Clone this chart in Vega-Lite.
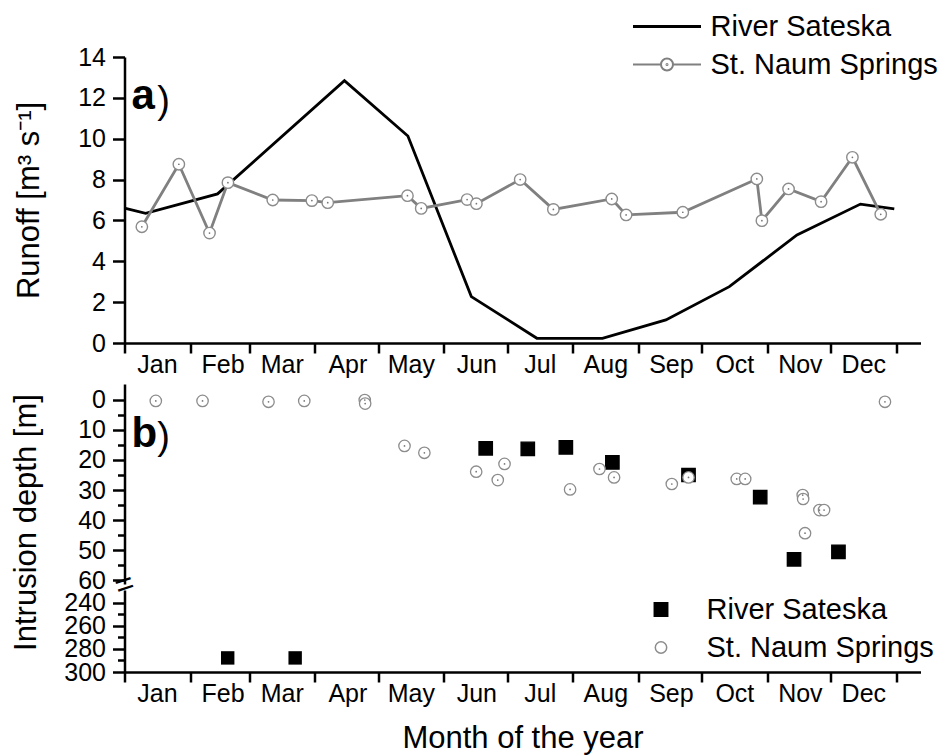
{
  "$schema": "https://vega.github.io/schema/vega-lite/v6.json",
  "background": "white",
  "padding": {"left": 9.5, "top": 12, "right": 5, "bottom": 5},
  "autosize": "pad",
  "config": {
    "font": "Liberation Sans",
    "view": {"stroke": null},
    "axis": {
      "grid": false,
      "domainColor": "black",
      "domainWidth": 2.5,
      "tickColor": "black",
      "tickWidth": 2.5,
      "labelColor": "black",
      "titleColor": "black",
      "labelFont": "Liberation Sans",
      "titleFont": "Liberation Sans",
      "labelFontSize": 25,
      "titleFontSize": 31,
      "titleFontWeight": "normal",
      "labelOverlap": false,
      "labelFlush": false,
      "labelBound": false
    },
    "legend": {"labelFont": "Liberation Sans", "labelColor": "black", "labelLimit": 400}
  },
  "datasets": {
    "runoff": [
      {"series": "River Sateska", "day": 0, "value": 6.6},
      {"series": "River Sateska", "day": 10, "value": 6.35},
      {"series": "River Sateska", "day": 44, "value": 7.3},
      {"series": "River Sateska", "day": 104, "value": 12.84},
      {"series": "River Sateska", "day": 134, "value": 10.13},
      {"series": "River Sateska", "day": 164, "value": 2.27},
      {"series": "River Sateska", "day": 195, "value": 0.23},
      {"series": "River Sateska", "day": 226, "value": 0.23},
      {"series": "River Sateska", "day": 256, "value": 1.13},
      {"series": "River Sateska", "day": 286, "value": 2.76},
      {"series": "River Sateska", "day": 318, "value": 5.29},
      {"series": "River Sateska", "day": 348, "value": 6.8},
      {"series": "River Sateska", "day": 364, "value": 6.56},
      {"series": "St. Naum Springs", "day": 8.2, "value": 5.69},
      {"series": "St. Naum Springs", "day": 25.7, "value": 8.75},
      {"series": "St. Naum Springs", "day": 40.2, "value": 5.38},
      {"series": "St. Naum Springs", "day": 48.9, "value": 7.85},
      {"series": "St. Naum Springs", "day": 70.1, "value": 7.0},
      {"series": "St. Naum Springs", "day": 88.6, "value": 6.97},
      {"series": "St. Naum Springs", "day": 96.1, "value": 6.87},
      {"series": "St. Naum Springs", "day": 133.8, "value": 7.21},
      {"series": "St. Naum Springs", "day": 140.3, "value": 6.59},
      {"series": "St. Naum Springs", "day": 162, "value": 7.02},
      {"series": "St. Naum Springs", "day": 166.4, "value": 6.82},
      {"series": "St. Naum Springs", "day": 187.1, "value": 8.0},
      {"series": "St. Naum Springs", "day": 202.8, "value": 6.54},
      {"series": "St. Naum Springs", "day": 230.4, "value": 7.05},
      {"series": "St. Naum Springs", "day": 237.2, "value": 6.27},
      {"series": "St. Naum Springs", "day": 264, "value": 6.4},
      {"series": "St. Naum Springs", "day": 299, "value": 8.03},
      {"series": "St. Naum Springs", "day": 301.4, "value": 5.99},
      {"series": "St. Naum Springs", "day": 314, "value": 7.54},
      {"series": "St. Naum Springs", "day": 329.4, "value": 6.92},
      {"series": "St. Naum Springs", "day": 344.2, "value": 9.09},
      {"series": "St. Naum Springs", "day": 357.6, "value": 6.3}
    ],
    "intrusion": [
      {"series": "River Sateska", "day": 48.8, "depth": 287.8},
      {"series": "River Sateska", "day": 80.7, "depth": 287.8},
      {"series": "River Sateska", "day": 170.8, "depth": 16.1},
      {"series": "River Sateska", "day": 190.7, "depth": 16.3},
      {"series": "River Sateska", "day": 208.7, "depth": 15.8},
      {"series": "River Sateska", "day": 230.7, "depth": 20.8},
      {"series": "River Sateska", "day": 266.7, "depth": 25},
      {"series": "River Sateska", "day": 300.6, "depth": 32.4},
      {"series": "River Sateska", "day": 316.6, "depth": 53.1},
      {"series": "River Sateska", "day": 337.6, "depth": 50.6},
      {"series": "St. Naum Springs", "day": 14.8, "depth": 0.3},
      {"series": "St. Naum Springs", "day": 36.9, "depth": 0.3},
      {"series": "St. Naum Springs", "day": 68.1, "depth": 0.6},
      {"series": "St. Naum Springs", "day": 85, "depth": 0.3},
      {"series": "St. Naum Springs", "day": 113.6, "depth": 0},
      {"series": "St. Naum Springs", "day": 113.8, "depth": 1.2},
      {"series": "St. Naum Springs", "day": 132.4, "depth": 15.3},
      {"series": "St. Naum Springs", "day": 141.8, "depth": 17.6},
      {"series": "St. Naum Springs", "day": 166.3, "depth": 23.9},
      {"series": "St. Naum Springs", "day": 176.5, "depth": 26.7},
      {"series": "St. Naum Springs", "day": 179.7, "depth": 21.3},
      {"series": "St. Naum Springs", "day": 210.7, "depth": 29.8},
      {"series": "St. Naum Springs", "day": 224.6, "depth": 23},
      {"series": "St. Naum Springs", "day": 231.5, "depth": 25.8},
      {"series": "St. Naum Springs", "day": 258.8, "depth": 28},
      {"series": "St. Naum Springs", "day": 266.7, "depth": 25.8},
      {"series": "St. Naum Springs", "day": 289.5, "depth": 26.3},
      {"series": "St. Naum Springs", "day": 293.5, "depth": 26.3},
      {"series": "St. Naum Springs", "day": 320.7, "depth": 31.7},
      {"series": "St. Naum Springs", "day": 320.9, "depth": 33},
      {"series": "St. Naum Springs", "day": 321.8, "depth": 44.4},
      {"series": "St. Naum Springs", "day": 328.6, "depth": 36.7},
      {"series": "St. Naum Springs", "day": 330.8, "depth": 36.7},
      {"series": "St. Naum Springs", "day": 359.6, "depth": 0.6}
    ]
  },
  "spacing": 41,
  "bounds": "flush",
  "resolve": {"scale": {"color": "independent", "shape": "independent", "fill": "independent", "stroke": "independent", "size": "independent"}},
  "vconcat": [
    {
      "width": 796,
      "height": 286,
      "layer": [
        {
          "data": {"name": "runoff"},
          "mark": {"type": "line", "strokeWidth": 2.8},
          "encoding": {
            "x": {
              "field": "day", "type": "quantitative",
              "scale": {"domain": [0, 376.4], "nice": false, "zero": false},
              "axis": {
                "values": [0, 31, 59, 90, 120, 151, 181, 212, 243, 273, 304, 334, 365],
                "labelExpr": "datum.value >= 365 ? '' : timeFormat(datetime(2001, 0, 1 + datum.value), '%b')",
                "labelOffset": 32.5, "labelAlign": "center", "tickSize": 10, "labelPadding": -1, "title": null,
                "labelOverlap": false
              }
            },
            "y": {
              "field": "value", "type": "quantitative",
              "scale": {"domain": [0, 14], "nice": false},
              "axis": {
                "values": [0, 1, 2, 3, 4, 5, 6, 7, 8, 9, 10, 11, 12, 13, 14],
                "labelExpr": "indexof([0, 2, 4, 6, 8, 10, 12, 14], datum.value) >= 0 ? datum.label : ''",
                "tickSize": {"condition": {"test": "datum.value % 2 === 0", "value": 12}, "value": 7},
                "labelPadding": 7,
                "labelOverlap": false,
                "title": "Runoff [m³ s⁻¹]",
                "titleX": -79
              }
            },
            "color": {
              "field": "series", "type": "nominal",
              "scale": {"domain": ["River Sateska", "St. Naum Springs"], "range": ["black", "#808080"]},
              "legend": {
                "orient": "none", "legendX": 528, "legendY": -45, "title": null, "padding": 0,
                "labelFontSize": 29, "labelLimit": 400, "symbolSize": 400, "symbolStrokeWidth": 2.5, "labelOffset": 29, "rowPadding": 8,
                "encode": {
                  "symbols": {
                    "update": {
                      "shape": {"signal": "datum.value === 'River Sateska' ? 'M-3.4,0H3.4' : 'M-3.4,0H-0.6M0.6,0H3.4M-0.6,0A0.6,0.6 0 1 1 0.6,0A0.6,0.6 0 1 1 -0.6,0M-0.05,0A0.05,0.05 0 1 1 0.05,0A0.05,0.05 0 1 1 -0.05,0'"},
                      "fill": {"value": "white"},
                      "strokeWidth": {"signal": "datum.value === 'River Sateska' ? 3 : 2"}
                    }
                  }
                }
              }
            }
          }
        },
        {
          "data": {"name": "runoff"},
          "transform": [{"filter": "datum.series === 'St. Naum Springs'"}],
          "mark": {"type": "point", "shape": "circle", "filled": true, "fill": "white", "stroke": "#8c8c8c", "strokeWidth": 1.4, "size": 130, "opacity": 1},
          "encoding": {
            "x": {"field": "day", "type": "quantitative"},
            "y": {"field": "value", "type": "quantitative"}
          }
        },
        {
          "data": {"name": "runoff"},
          "transform": [{"filter": "datum.series === 'St. Naum Springs'"}],
          "mark": {"type": "point", "shape": "circle", "filled": true, "fill": "#777777", "size": 3, "opacity": 1},
          "encoding": {
            "x": {"field": "day", "type": "quantitative"},
            "y": {"field": "value", "type": "quantitative"}
          }
        },
        {
          "data": {"values": [{"label": "a", "day": 3.3, "value": 11.45}]},
          "mark": {"type": "text", "fontSize": 42, "fontWeight": "bold", "align": "left", "baseline": "alphabetic", "color": "black"},
          "encoding": {
            "x": {"field": "day", "type": "quantitative"},
            "y": {"field": "value", "type": "quantitative"},
            "text": {"field": "label"}
          }
        },
        {
          "data": {"values": [{"label": ")", "day": 15.5, "value": 11.25}]},
          "mark": {"type": "text", "fontSize": 38, "align": "left", "baseline": "alphabetic", "color": "black"},
          "encoding": {
            "x": {"field": "day", "type": "quantitative"},
            "y": {"field": "value", "type": "quantitative"},
            "text": {"field": "label"}
          }
        }
      ]
    },
    {
      "spacing": 6,
      "bounds": "flush",
      "vconcat": [
        {
          "width": 796,
          "height": 200,
          "resolve": {"axis": {"y": "independent"}},
          "layer": [
            {
              "data": {"name": "intrusion"},
              "transform": [{"filter": "datum.depth <= 60"}],
              "mark": {"type": "point", "filled": true, "strokeWidth": 1.3, "opacity": 1},
              "encoding": {
                "x": {
                  "field": "day", "type": "quantitative",
                  "scale": {"domain": [0, 376.4], "nice": false, "zero": false},
                  "axis": null
                },
                "y": {
                  "field": "depth", "type": "quantitative",
                  "scale": {"domain": [-5.33, 61.33], "nice": false, "zero": false, "reverse": true},
                  "axis": {
                    "orient": "left",
                    "values": [0, 10, 20, 30, 40, 50, 60],
                    "tickSize": 12,
                    "labelPadding": 7,
                    "labelOverlap": false,
                    "title": "Intrusion depth [m]",
                    "titleX": -82.5,
                    "titleY": 138
                  }
                },
                "shape": {
                  "field": "series", "type": "nominal",
                  "scale": {"domain": ["River Sateska", "St. Naum Springs"], "range": ["square", "circle"]},
                  "legend": {
                    "orient": "none", "legendX": 522, "legendY": 211, "title": null, "padding": 0,
                    "labelFontSize": 29, "labelLimit": 400, "labelOffset": 31, "rowPadding": 8
                  }
                },
                "fill": {
                  "field": "series", "type": "nominal",
                  "scale": {"domain": ["River Sateska", "St. Naum Springs"], "range": ["black", "white"]}
                },
                "stroke": {
                  "field": "series", "type": "nominal",
                  "scale": {"domain": ["River Sateska", "St. Naum Springs"], "range": ["black", "#8c8c8c"]}
                },
                "size": {
                  "field": "series", "type": "nominal",
                  "scale": {"domain": ["River Sateska", "St. Naum Springs"], "range": [180, 130]}
                }
              }
            },
            {
              "data": {"name": "intrusion"},
              "transform": [{"filter": "datum.series === 'St. Naum Springs' && datum.depth <= 60"}],
              "mark": {"type": "point", "shape": "circle", "filled": true, "fill": "#777777", "size": 3, "opacity": 1},
              "encoding": {
                "x": {"field": "day", "type": "quantitative"},
                "y": {
                  "field": "depth", "type": "quantitative",
                  "axis": {
                    "orient": "left",
                    "values": [5, 15, 25, 35, 45, 55],
                    "tickSize": 7,
                    "labels": false,
                    "domain": false,
                    "title": null
                  }
                }
              }
            },
            {
              "data": {"values": [{"label": "b", "day": 3.3, "depth": 15.8}]},
              "mark": {"type": "text", "fontSize": 42, "fontWeight": "bold", "align": "left", "baseline": "alphabetic", "color": "black"},
              "encoding": {
                "x": {"field": "day", "type": "quantitative"},
                "y": {"field": "depth", "type": "quantitative", "axis": null},
                "text": {"field": "label"}
              }
            },
            {
              "data": {"values": [{"label": ")", "day": 15.5, "depth": 16.5}]},
              "mark": {"type": "text", "fontSize": 38, "align": "left", "baseline": "alphabetic", "color": "black"},
              "encoding": {
                "x": {"field": "day", "type": "quantitative"},
                "y": {"field": "depth", "type": "quantitative", "axis": null},
                "text": {"field": "label"}
              }
            },
            {
              "data": {"values": [{"label": "=", "day": 0, "depth": 61.6}]},
              "mark": {"type": "text", "fontSize": 32, "align": "center", "baseline": "middle", "angle": -18, "color": "black"},
              "encoding": {
                "x": {"field": "day", "type": "quantitative"},
                "y": {"field": "depth", "type": "quantitative", "axis": null},
                "text": {"field": "label"}
              }
            }
          ]
        },
        {
          "width": 796,
          "height": 82,
          "data": {"name": "intrusion"},
          "transform": [{"filter": "datum.depth >= 240"}],
          "mark": {"type": "point", "shape": "square", "filled": true, "color": "black", "size": 180, "opacity": 1},
          "encoding": {
            "x": {
              "field": "day", "type": "quantitative",
              "scale": {"domain": [0, 376.4], "nice": false, "zero": false},
              "axis": {
                "values": [0, 31, 59, 90, 120, 151, 181, 212, 243, 273, 304, 334, 365],
                "labelExpr": "datum.value >= 365 ? '' : timeFormat(datetime(2001, 0, 1 + datum.value), '%b')",
                "labelOffset": 32.5, "labelAlign": "center", "tickSize": 10, "labelPadding": -1,
                "labelOverlap": false,
                "title": "Month of the year", "titlePadding": 17
              }
            },
            "y": {
              "field": "depth", "type": "quantitative",
              "scale": {"domain": [229, 300], "nice": false, "zero": false, "reverse": true},
              "axis": {
                "values": [240, 250, 260, 270, 280, 290, 300],
                "labelExpr": "datum.value % 20 === 0 ? datum.label : ''",
                "tickSize": {"condition": {"test": "datum.value % 20 === 0", "value": 12}, "value": 7},
                "labelPadding": 7,
                "labelOverlap": false,
                "title": null
              }
            }
          }
        }
      ]
    }
  ]
}
